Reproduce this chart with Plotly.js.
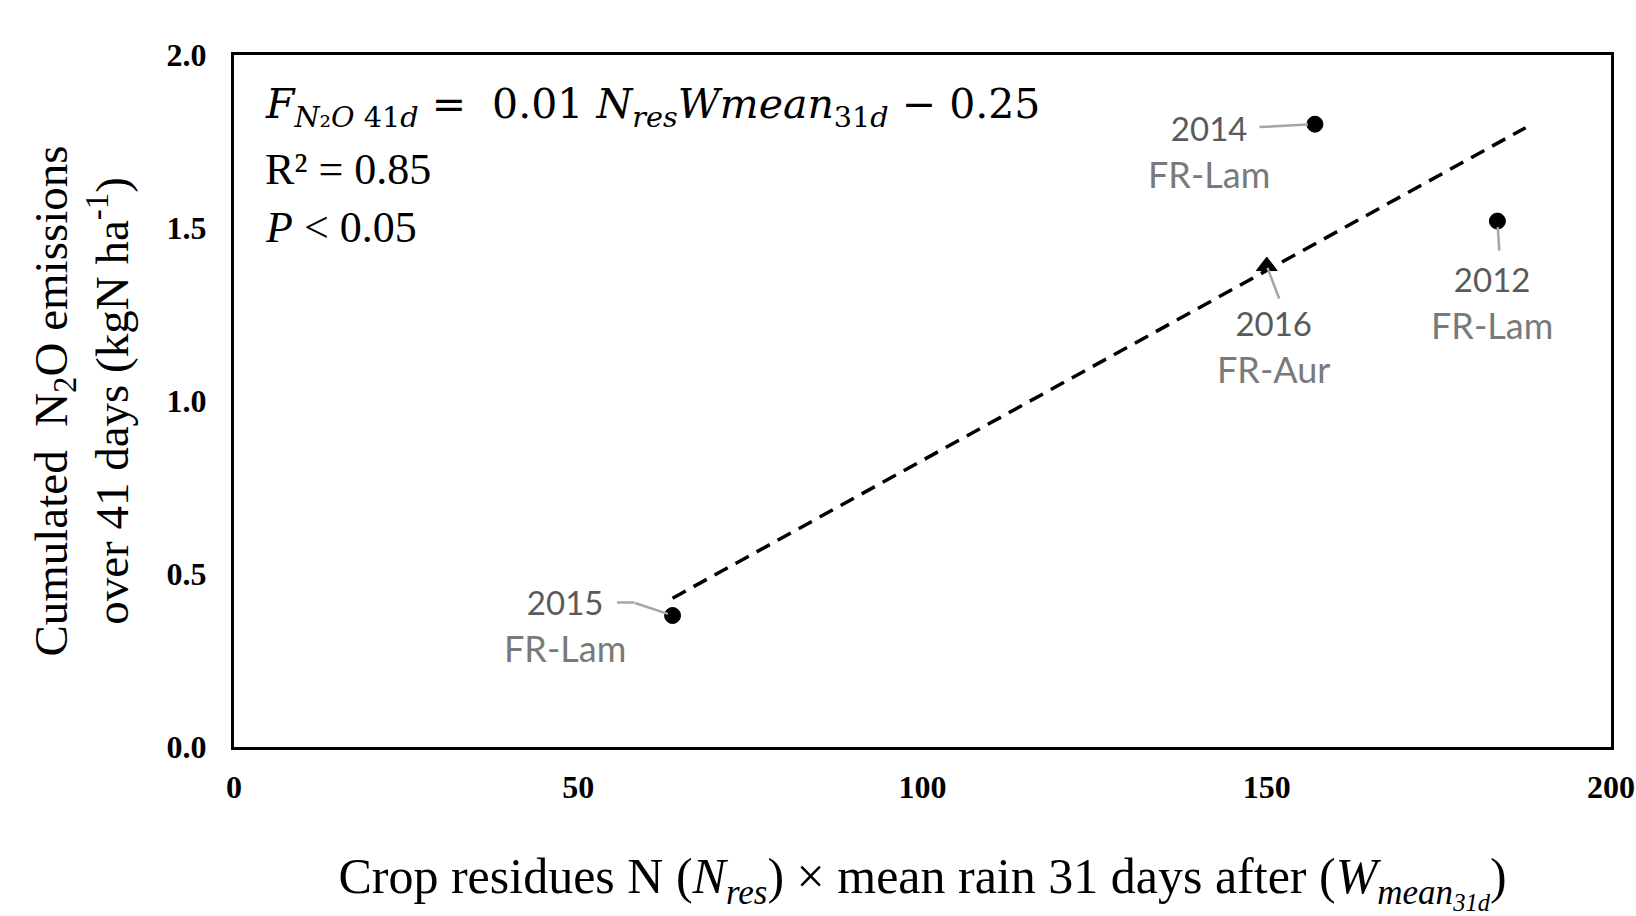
<!DOCTYPE html>
<html>
<head>
<meta charset="utf-8">
<script src="https://cdn.plot.ly/plotly-3.0.1.min.js"></script>
<style>html,body{margin:0;padding:0;background:#fff;}#chart{width:1636px;height:916px;}</style>
</head>
<body>
<div id="chart"></div>
<script>
// ---- data ----
const siteYears = ["2015", "2016", "2014", "2012"];
const siteNames = ["FR-Lam", "FR-Aur", "FR-Lam", "FR-Lam"];
const xValues = [63.7, 150.0, 157.0, 183.5];   // Nres x Wmean31d
const yValues = [0.38, 1.39, 1.80, 1.52];       // cumulated N2O over 41 days
const markerSymbols = ["circle", "triangle-up", "circle", "circle"];
const trendX = [63.7, 187.6];
const trendY = [0.43, 1.79];
const xTicks = [0, 50, 100, 150, 200];
const yTicks = [0.0, 0.5, 1.0, 1.5, 2.0];

// ---- label placement (pixel offsets, presentation only) ----
const labelShift = [[-108, -10], [7, -81], [-106, -28], [-5, -82]];
const leaderOffset = [[-39, -13], [13, 34], [-57, 3], [2, 31]];
const leaderStandoff = [5, 2, 7, 6];

const serif = "Liberation Serif, Times New Roman, serif";
const mathFont = "DejaVu Serif, Liberation Serif, serif";
const labelFont = "Lato, Carlito, Calibri, sans-serif";

const traces = [
  {
    x: trendX, y: trendY, type: "scatter", mode: "lines",
    line: {color: "#000", width: 3.5, dash: "15px,9px"},
    hoverinfo: "skip", showlegend: false
  },
  {
    x: xValues, y: yValues, type: "scatter", mode: "markers",
    marker: {symbol: markerSymbols, size: [16, 18, 16, 16], color: "#000", opacity: 1,
             line: {color: "#000", width: 1}},
    showlegend: false
  }
];

const annotations = [];
for (let i = 0; i < xValues.length; i++) {
  // leader line
  annotations.push({
    x: xValues[i], y: yValues[i], xref: "x", yref: "y",
    text: "", showarrow: true, arrowhead: 0, arrowwidth: 2.5,
    arrowcolor: "#a6a6a6", ax: leaderOffset[i][0], ay: leaderOffset[i][1],
    axref: "pixel", ayref: "pixel", standoff: leaderStandoff[i]
  });
  // label
  annotations.push({
    x: xValues[i], y: yValues[i], xref: "x", yref: "y",
    text: '<span style="color:#5a5a5a;font-size:33px">' + siteYears[i] + '</span><br>' + siteNames[i],
    showarrow: false, xanchor: "center", yanchor: "middle", align: "center",
    xshift: labelShift[i][0], yshift: labelShift[i][1],
    font: {family: labelFont, size: 36, color: "#7a7a7a"}
  });
}
// extra horizontal segment for the 2015 leader
annotations.push({
  x: xValues[0], y: yValues[0], xref: "x", yref: "y",
  text: "", showarrow: true, arrowhead: 0, arrowwidth: 2.5, arrowcolor: "#a6a6a6",
  ax: -19, ay: 0, axref: "pixel", ayref: "pixel", xshift: -38, yshift: 13, standoff: 0
});

// regression statistics
annotations.push({
  xref: "paper", yref: "paper", x: 0.021, y: 0.925, xanchor: "left", yanchor: "middle",
  showarrow: false, align: "left",
  text: "<i>F</i><sub><i>N</i>₂<i>O</i> 41<i>d</i></sub> =  0.01 <i>N</i><sub><i>res</i></sub><i>Wmean</i><sub>31<i>d</i></sub> − 0.25",
  font: {family: mathFont, size: 41, color: "#000"}
});
annotations.push({
  xref: "paper", yref: "paper", x: 0.021, y: 0.835, xanchor: "left", yanchor: "middle",
  showarrow: false, text: "R² = 0.85",
  font: {family: serif, size: 44, color: "#000"}
});
annotations.push({
  xref: "paper", yref: "paper", x: 0.021, y: 0.751, xanchor: "left", yanchor: "middle",
  showarrow: false, text: "<i>P</i> &lt; 0.05",
  font: {family: serif, size: 44, color: "#000"}
});

const layout = {
  width: 1636, height: 916,
  margin: {l: 234, r: 25, t: 55, b: 169},
  paper_bgcolor: "#fff", plot_bgcolor: "#fff",
  showlegend: false,
  xaxis: {
    range: [0, 200], tickvals: xTicks, ticktext: xTicks.map(String),
    showgrid: false, zeroline: false,
    showline: true, mirror: true, linecolor: "#000", linewidth: 3,
    ticks: "outside", ticklen: 10, tickcolor: "rgba(0,0,0,0)",
    tickfont: {family: serif, size: 32, color: "#000", weight: "bold"},
    title: {
      text: "Crop residues N (<i>N<sub>res</sub></i>) × mean rain 31 days after (<i>W<sub>mean<sub>31d</sub></sub></i>)",
      font: {family: serif, size: 50, color: "#000"}, standoff: 60
    },
    automargin: false
  },
  yaxis: {
    range: [0, 2], tickvals: yTicks, ticktext: yTicks.map(v => v.toFixed(1)),
    showgrid: false, zeroline: false,
    showline: true, mirror: true, linecolor: "#000", linewidth: 3,
    ticks: "outside", ticklen: 18, tickcolor: "rgba(0,0,0,0)",
    tickfont: {family: serif, size: 32, color: "#000", weight: "bold"},
    title: {
      text: "Cumulated  N<sub>2</sub>O emissions<br>over 41 days (kgN ha<sup>-1</sup>)",
      font: {family: serif, size: 47, color: "#000"}, standoff: 24
    },
    automargin: false
  },
  annotations: annotations
};

Plotly.newPlot("chart", traces, layout, {displayModeBar: false, staticPlot: true});
</script>
</body>
</html>
